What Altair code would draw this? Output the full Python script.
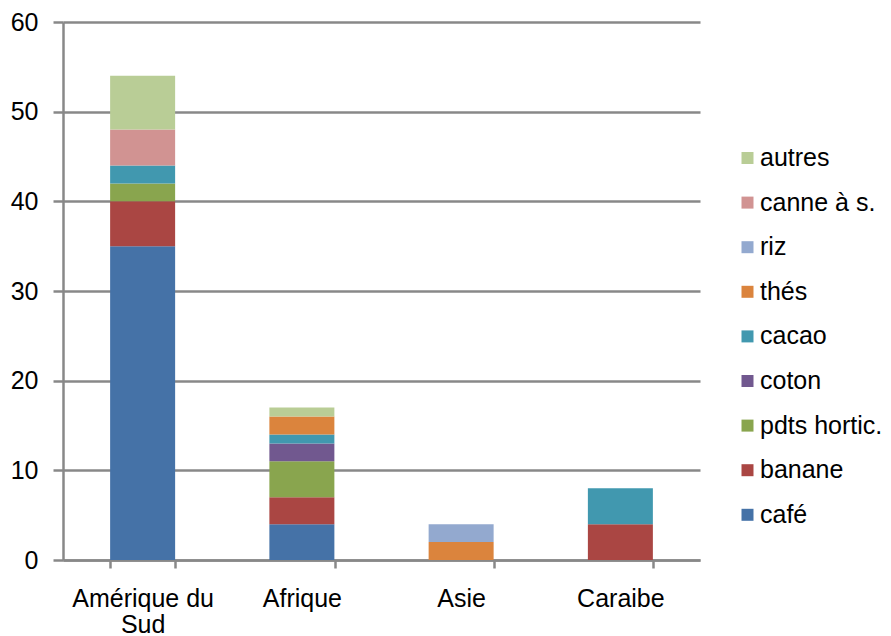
import altair as alt
import pandas as pd

categories = ["Amérique du Sud", "Afrique", "Asie", "Caraibe"]
series = ["café", "banane", "pdts hortic.", "coton", "cacao", "thés", "riz", "canne à s.", "autres"]
colors = ["#4572A7", "#AA4643", "#89A54E", "#71588F", "#4198AF", "#DB843D", "#93A9CF", "#D19392", "#B9CD96"]

cafe = [35, 4, 0, 0]
banane = [5, 3, 0, 4]
pdts_hortic = [2, 4, 0, 0]
coton = [0, 2, 0, 0]
cacao = [2, 1, 0, 4]
thes = [0, 2, 2, 0]
riz = [0, 0, 2, 0]
canne = [4, 0, 0, 0]
autres = [6, 1, 0, 0]

values = [cafe, banane, pdts_hortic, coton, cacao, thes, riz, canne, autres]

rows = []
for si, (name, vals) in enumerate(zip(series, values)):
    for ci, cat in enumerate(categories):
        if vals[ci] > 0:
            rows.append({"region": cat, "produit": name, "valeur": vals[ci], "idx": si})
df = pd.DataFrame(rows)

GRID = "#888888"
FONT = "Liberation Sans"
FS = 25

chart = alt.Chart(df).mark_bar(size=65).encode(
    x=alt.X("region:N", sort=categories, title=None,
            scale=alt.Scale(paddingInner=0.59, paddingOuter=0.295),
            axis=alt.Axis(labelAngle=0, tickBand="extent", tickSize=8, tickWidth=2.5,
                          tickColor=GRID, domainColor=GRID, domainWidth=2.5,
                          labelFontSize=FS, labelFont=FONT, labelColor="#000",
                          labelPadding=18, labelLineHeight=26,
                          labelExpr="datum.label == 'Amérique du Sud' ? ['Amérique du', 'Sud'] : datum.label")),
    y=alt.Y("valeur:Q", stack="zero", title=None,
            scale=alt.Scale(domain=[0, 60], nice=False),
            axis=alt.Axis(values=[0, 10, 20, 30, 40, 50, 60], grid=True, gridColor=GRID, gridWidth=2.5,
                          tickSize=10, tickWidth=2.5, tickColor=GRID, domainColor=GRID, domainWidth=2.5,
                          labelFontSize=FS, labelFont=FONT, labelColor="#000", labelPadding=15)),
    color=alt.Color("produit:N",
                    scale=alt.Scale(domain=series[::-1], range=colors[::-1]),
                    legend=alt.Legend(title=None, orient="none", legendX=672, legendY=123.5,
                                      symbolType="square", symbolSize=144, symbolStrokeWidth=0,
                                      labelFontSize=FS, labelFont=FONT, labelColor="#000",
                                      labelOffset=0, labelLimit=0, rowPadding=18.6, padding=0)),
    order=alt.Order("idx:Q", sort="ascending"),
).properties(
    width=637, height=538,
    autosize=alt.AutoSizeParams(type="none"),
    padding={"left": 55, "top": 14, "right": 183, "bottom": 76},
    background="white",
).configure_view(strokeWidth=0)

chart.save("out.html", embed_options={"renderer": "svg", "actions": False})
